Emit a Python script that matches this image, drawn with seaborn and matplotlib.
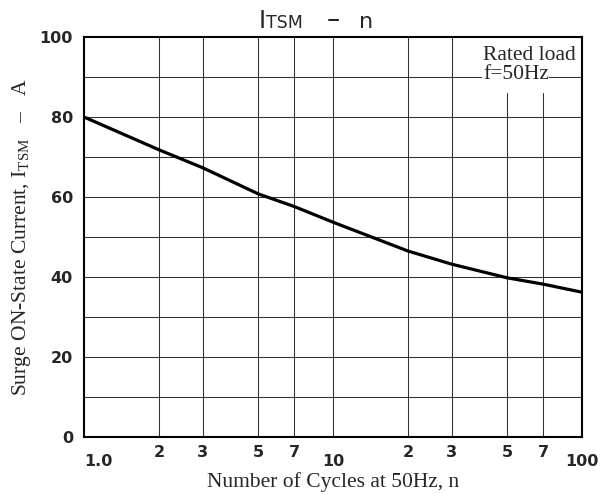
import matplotlib
matplotlib.use("Agg")
import matplotlib.pyplot as plt
import seaborn as sns
import pandas as pd
from matplotlib.ticker import FixedLocator, FixedFormatter

# ---- data ----
cycles = [1, 2, 3, 5, 7, 10, 20, 30, 50, 70, 100]
itsm = [80.0, 71.8, 67.3, 60.8, 57.6, 53.7, 46.5, 43.2, 39.8, 38.2, 36.2]

major_x = [1, 10, 100]
major_x_labels = ["1.0", "10", "100"]
minor_x = [2, 3, 5, 7, 20, 30, 50, 70]
minor_x_labels = ["2", "3", "5", "7", "2", "3", "5", "7"]
y_ticks = [0, 20, 40, 60, 80, 100]
y_grid = [10, 20, 30, 40, 50, 60, 70, 80, 90]

df = pd.DataFrame({"n": cycles, "I": itsm})

sns.set_style("white")
plt.rcParams["font.family"] = ["DejaVu Sans"]
plt.rcParams["mathtext.fontset"] = "custom"

W, H = 606, 494
fig = plt.figure(figsize=(W / 100, H / 100), dpi=100)
ax = fig.add_axes([84 / W, 1 - 437 / H, (582 - 84) / W, 400 / H])

ax.set_xscale("log")
ax.set_xlim(1, 100)
ax.set_ylim(0, 100)

gcol = "#303030"
for yv in y_grid:
    ax.axhline(yv, color=gcol, lw=0.75, zorder=1)
for xv in minor_x:
    top = 0.86 if xv >= 50 else 1.0
    ax.axvline(xv, ymax=top, color=gcol, lw=0.75, zorder=1)
ax.axvline(10, color=gcol, lw=0.75, zorder=1)

sns.lineplot(data=df, x="n", y="I", ax=ax, color="black", lw=2.3, zorder=3)

for s in ax.spines.values():
    s.set_color("black")
    s.set_linewidth(1.5)

ax.xaxis.set_major_locator(FixedLocator(major_x))
ax.xaxis.set_major_formatter(FixedFormatter(major_x_labels))
ax.xaxis.set_minor_locator(FixedLocator(minor_x))
ax.xaxis.set_minor_formatter(FixedFormatter(minor_x_labels))
ax.tick_params(axis="x", which="major", length=0, pad=12.5, labelsize=11.5)
ax.tick_params(axis="x", which="minor", length=0, pad=5.5, labelsize=11.5)
ax.set_yticks(y_ticks)
ax.tick_params(axis="y", length=0, pad=8, labelsize=11.5)
for lab in ax.get_xticklabels(which="both") + ax.get_yticklabels():
    lab.set_fontweight("bold")
ax.get_xticklabels()[0].set_ha("left")

ax.set_xlabel("Number of Cycles at 50Hz, n", family="Liberation Serif",
              fontsize=15.5, labelpad=2)
ax.set_ylabel(r"Surge ON-State Current, $\mathregular{I_{TSM}}$   –   A",
              family="Liberation Serif", fontsize=15.5, labelpad=5)

# title built from pieces (large I, smaller TSM on the same baseline)
by = 1 - 28 / H
fig.text(259 / W, by, "I", fontsize=17.5, va="baseline", ha="left")
fig.text(266 / W, by, "TSM", fontsize=12.5, va="baseline", ha="left")
fig.text(327 / W, 1 - 27 / H, "–", fontsize=19,
         va="baseline", ha="left")
fig.text(359 / W, by, "n", fontsize=16, va="baseline", ha="left")

ax.text(40, 94.3, "Rated load", ha="left", va="baseline",
        family="Liberation Serif", fontsize=15.5, zorder=4,
        bbox=dict(facecolor="white", edgecolor="none", pad=0.5))
ax.text(40, 89.4, "f=50Hz", ha="left", va="baseline",
        family="Liberation Serif", fontsize=15.5, zorder=4,
        bbox=dict(facecolor="white", edgecolor="none", pad=0.3))

fig.savefig("out.png", dpi=100)
